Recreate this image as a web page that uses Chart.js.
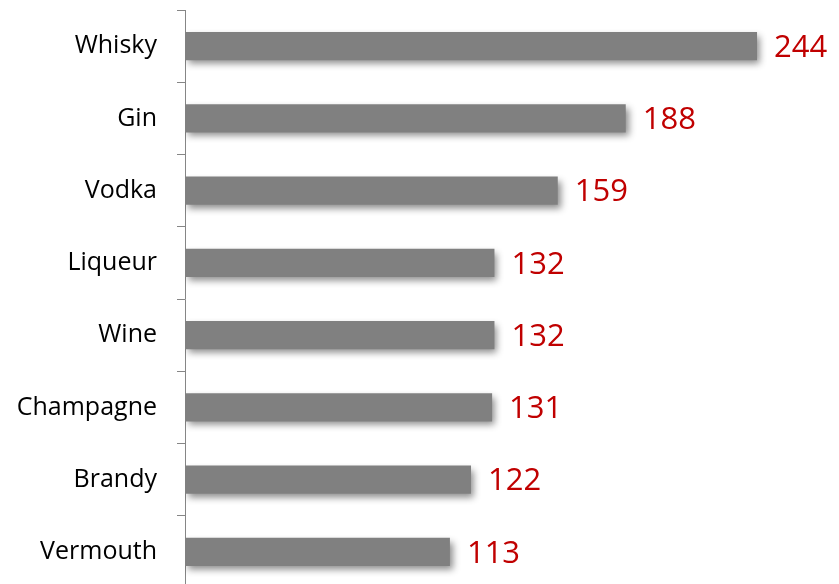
<!DOCTYPE html>
<html>
<head>
<meta charset="utf-8">
<script src="https://cdn.jsdelivr.net/npm/chart.js@4"></script>
<style>
  html, body { margin: 0; padding: 0; overflow: hidden; background: #fff; height: 584px; }
  #myChart { display: block; margin-top: -25px; }
</style>
</head>
<body>
<canvas id="myChart" width="839" height="648"></canvas>
<script>
var labels = ["Whisky", "Gin", "Vodka", "Liqueur", "Wine", "Champagne", "Brandy", "Vermouth"];
var values = [244, 188, 159, 132, 132, 131, 122, 113];

// soft drop shadow under the bars
var barShadow = {
    id: 'barShadow',
    beforeDatasetDraw: function (chart) {
        var ctx = chart.ctx;
        ctx.save();
        ctx.shadowColor = 'rgba(0,0,0,0.45)';
        ctx.shadowBlur = 7;
        ctx.shadowOffsetX = 3;
        ctx.shadowOffsetY = 4;
    },
    afterDatasetDraw: function (chart) {
        chart.ctx.restore();
    }
};

// red numbers at the end of each bar
var valueLabels = {
    id: 'valueLabels',
    afterDatasetsDraw: function (chart) {
        var ctx = chart.ctx;
        var meta = chart.getDatasetMeta(0);
        ctx.save();
        ctx.fillStyle = '#C00000';
        ctx.font = '31px "Open Sans"';
        ctx.textAlign = 'left';
        ctx.textBaseline = 'middle';
        meta.data.forEach(function (bar, i) {
            ctx.fillText(values[i], bar.x + 17, bar.y + 2);
        });
        ctx.restore();
    }
};

var ctx = document.getElementById("myChart").getContext('2d');
var myChart = new Chart(ctx, {
    type: 'bar',
    data: {
        labels: labels,
        datasets: [{
            data: values,
            backgroundColor: '#808080',
            borderWidth: 0,
            barPercentage: 0.39,
            categoryPercentage: 1.0
        }]
    },
    options: {
        indexAxis: 'y',
        responsive: false,
        animation: false,
        layout: { padding: { top: 9, bottom: 3, left: 0, right: 21 } },
        plugins: { legend: { display: false }, tooltip: { enabled: false } },
        scales: {
            x: { display: false, min: 0, max: 270 },
            y: {
                afterFit: function (s) { s.width = 185; },
                grid: { drawOnChartArea: false, tickLength: 8, color: '#868686', offset: true },
                border: { color: '#868686', width: 1 },
                ticks: { color: '#000', padding: 20, font: { family: 'Open Sans', size: 25 } }
            }
        }
    },
    plugins: [barShadow, valueLabels]
});
</script>
</body>
</html>
